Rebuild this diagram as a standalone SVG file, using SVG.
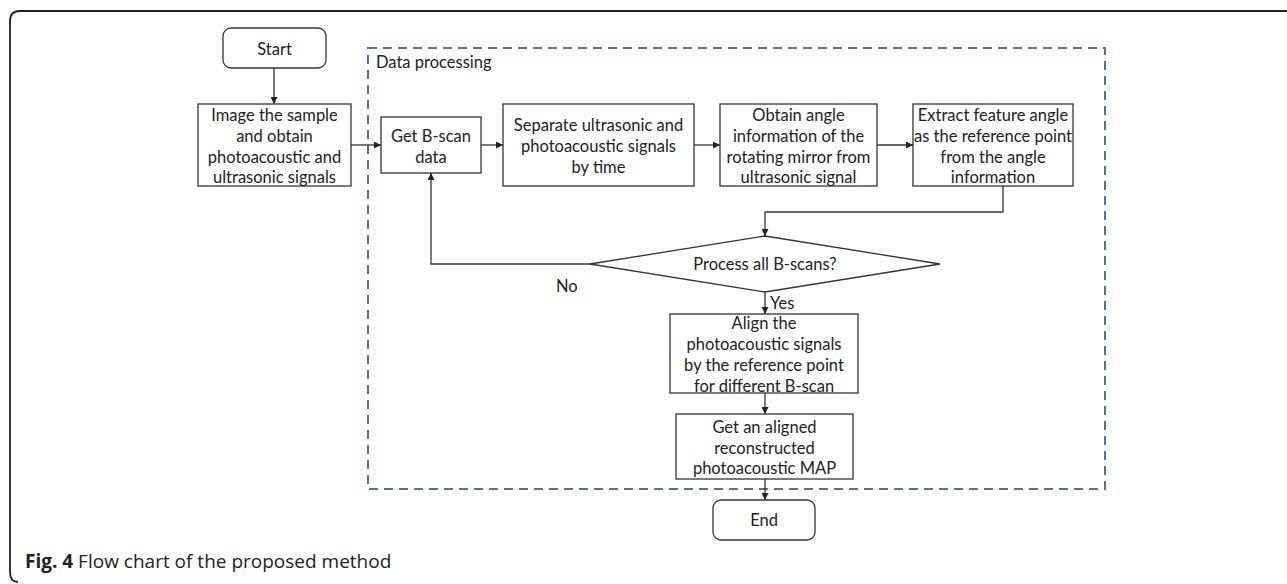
<svg xmlns="http://www.w3.org/2000/svg" width="1287" height="584" viewBox="0 0 1287 584">
<defs>
<marker id="arr" viewBox="0 0 10 10" refX="10" refY="5" markerWidth="7" markerHeight="7" markerUnits="userSpaceOnUse" orient="auto"><path d="M0,0 L10,5 L0,10 z" fill="#222"/></marker>
<style>
.box{fill:#fff;stroke:#333;stroke-width:1.3}
.t{font-family:Lato,"Noto Sans","Liberation Sans",sans-serif;font-size:16.5px;fill:#222;text-anchor:middle;dominant-baseline:central}
.tl{font-family:Lato,"Noto Sans","Liberation Sans",sans-serif;font-size:16.5px;fill:#222}
.c{fill:none;stroke:#333;stroke-width:1.3}
.ca{fill:none;stroke:#333;stroke-width:1.3;marker-end:url(#arr)}
</style>
</defs>
<rect width="1287" height="584" fill="#fff"/>
<path d="M1287,11 H20 Q10,11 10,21 V572 Q10,582 18,582" fill="none" stroke="#222" stroke-width="1.8"/>
<g id="data-processing">
<rect x="368" y="48" width="737" height="441" fill="none" stroke="#4a76a6" stroke-width="2" stroke-dasharray="9,6"/>
<text class="tl" x="376" y="68">Data processing</text>
</g>
<g id="connectors">
<path class="ca" d="M274,68 V104"/>
<path class="ca" d="M351,145 H381"/>
<path class="ca" d="M481,145 H503"/>
<path class="ca" d="M694,145 H720"/>
<path class="ca" d="M877,145 H913"/>
<path class="ca" d="M1003,186 V212 H765 V236"/>
<path class="ca" d="M590,264 H431 V173"/>
<path class="ca" d="M765,292 V314"/>
<path class="ca" d="M765,393 V414"/>
<path class="ca" d="M765,479 V500"/>
<text class="tl" x="556" y="292">No</text>
<text class="tl" x="770" y="309">Yes</text>
</g>
<g id="start">
<rect class="box" x="223" y="28" width="103" height="40" rx="8"/>
<text class="t" x="274.5" y="49">Start</text>
</g>
<g id="image">
<rect class="box" x="198" y="104" width="153" height="82"/>
<text class="t" x="274.5" y="115">Image the sample</text>
<text class="t" x="274.5" y="136">and obtain</text>
<text class="t" x="274.5" y="157">photoacoustic and</text>
<text class="t" x="274.5" y="177">ultrasonic signals</text>
</g>
<g id="getb">
<rect class="box" x="381" y="117" width="100" height="56"/>
<text class="t" x="431" y="136">Get B-scan</text>
<text class="t" x="431" y="157">data</text>
</g>
<g id="separate">
<rect class="box" x="503" y="104" width="191" height="82"/>
<text class="t" x="598.5" y="125">Separate ultrasonic and</text>
<text class="t" x="598.5" y="146">photoacoustic signals</text>
<text class="t" x="598.5" y="167">by time</text>
</g>
<g id="obtain">
<rect class="box" x="720" y="104" width="157" height="82"/>
<text class="t" x="798.5" y="115">Obtain angle</text>
<text class="t" x="798.5" y="136">information of the</text>
<text class="t" x="798.5" y="157">rotating mirror from</text>
<text class="t" x="798.5" y="177">ultrasonic signal</text>
</g>
<g id="extract">
<rect class="box" x="913" y="104" width="160" height="82"/>
<text class="t" x="993" y="115">Extract feature angle</text>
<text class="t" x="993" y="136">as the reference point</text>
<text class="t" x="993" y="157">from the angle</text>
<text class="t" x="993" y="177">information</text>
</g>
<g id="decision">
<polygon class="box" points="590,264 765,236 940,264 765,292"/>
<text class="t" x="765" y="264">Process all B-scans?</text>
</g>
<g id="align">
<rect class="box" x="670" y="314" width="188" height="79"/>
<text class="t" x="764" y="323">Align the</text>
<text class="t" x="764" y="344">photoacoustic signals</text>
<text class="t" x="764" y="365">by the reference point</text>
<text class="t" x="764" y="386">for different B-scan</text>
</g>
<g id="aligned">
<rect class="box" x="676" y="414" width="177" height="65"/>
<text class="t" x="764.5" y="427">Get an aligned</text>
<text class="t" x="764.5" y="448">reconstructed</text>
<text class="t" x="764.5" y="468">photoacoustic MAP</text>
</g>
<g id="end">
<rect class="box" x="713" y="500" width="102" height="40" rx="8"/>
<text class="t" x="764" y="520">End</text>
</g>
<text x="25" y="568" font-family="'Open Sans','Noto Sans',sans-serif" font-size="19" fill="#222"><tspan font-weight="bold">Fig. 4</tspan> Flow chart of the proposed method</text>
</svg>
